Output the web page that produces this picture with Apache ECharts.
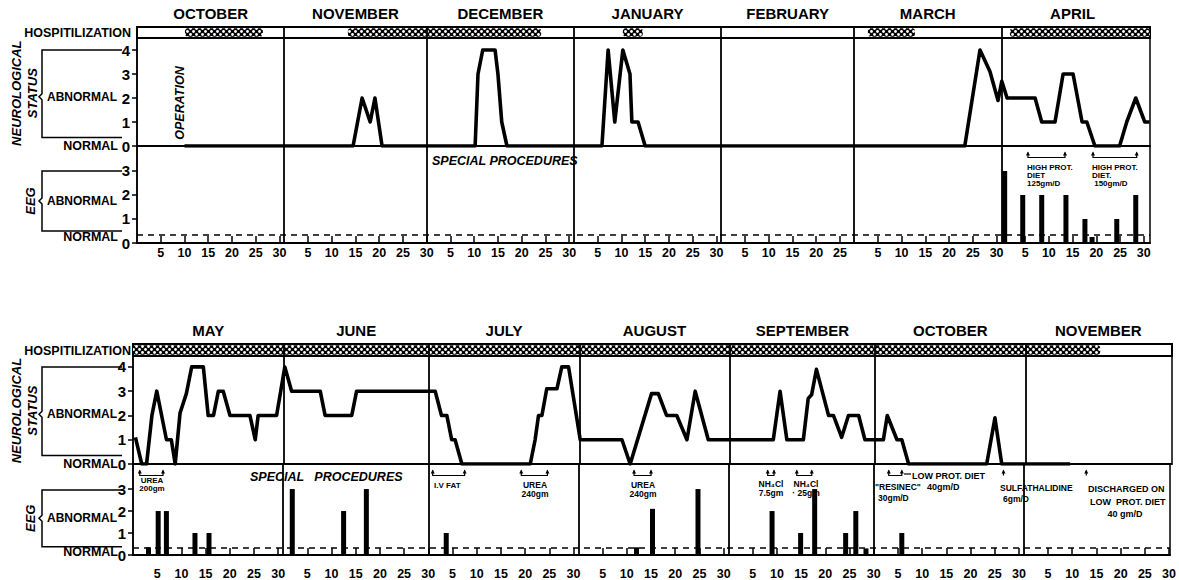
<!DOCTYPE html>
<html><head><meta charset="utf-8">
<script src="https://cdn.jsdelivr.net/npm/echarts@6/dist/echarts.min.js"></script>
<style>html,body{margin:0;padding:0;background:#fff}#c{width:1179px;height:580px}</style>
</head><body><div id="c"></div>
<script>
// ---------------- DATA ----------------
const topMonths = ['OCTOBER','NOVEMBER','DECEMBER','JANUARY','FEBRUARY','MARCH','APRIL'];
const topMonthDays = [31,30,31,31,28,31,30];
const bottomMonths = ['MAY','JUNE','JULY','AUGUST','SEPTEMBER','OCTOBER','NOVEMBER'];
const bottomMonthDays = [31,30,31,31,30,31,30];
const dayTickLabels = [5,10,15,20,25,30];
const neuroTicks = [0,1,2,3,4];
const eegTicks = [0,1,2,3];
const eegNormalLevel = 0.33;

// hospitalization periods: [fromMonth, fromDay, toMonth, toDay]
const topHospitalization = [
  ['OCTOBER',10.1,'OCTOBER',26.5],['NOVEMBER',13.4,'DECEMBER',24.1],['JANUARY',10.3,'JANUARY',14.5],
  ['MARCH',2.9,'MARCH',12.8],['APRIL',1.8,'APRIL',31.3]];
const bottomHospitalization = [['MAY',0,'NOVEMBER',15.4]];

// neurological status: [month, day, grade]
const topNeuro = [
  ['OCTOBER',10,0],
  ['NOVEMBER',14.5,0],['NOVEMBER',16.4,2],['NOVEMBER',18.1,1],['NOVEMBER',19.1,2],['NOVEMBER',20.6,0],
  ['DECEMBER',10.2,0],['DECEMBER',10.8,3],['DECEMBER',11.8,4],['DECEMBER',14.4,4],['DECEMBER',15,3],['DECEMBER',15.8,1],['DECEMBER',16.9,0],
  ['JANUARY',5.9,0],['JANUARY',7.2,4],['JANUARY',8.6,1],['JANUARY',10.3,4],['JANUARY',11.8,3],['JANUARY',12.2,1],['JANUARY',13.5,1],['JANUARY',15,0],
  ['MARCH',23.3,0],['MARCH',26.5,4],['MARCH',28.6,3.1],['MARCH',30.3,1.9],
  ['APRIL',0.1,2.7],['APRIL',1.2,2],['APRIL',7.1,2],['APRIL',8.5,1],['APRIL',11.3,1],['APRIL',13,3],['APRIL',15.1,3],
  ['APRIL',17,1],['APRIL',18,1],['APRIL',19.7,0],['APRIL',24.9,0],['APRIL',26.4,1],['APRIL',28.3,2],['APRIL',30.2,1],['APRIL',31.2,1]];
const bottomNeuro = [
  ['MAY',0.5,1.1],['MAY',1.8,0],['MAY',2.8,0],['MAY',3.9,2],['MAY',4.9,3],['MAY',6.9,1],['MAY',7.9,1],['MAY',8.7,0],
  ['MAY',9.7,2.1],['MAY',11,2.9],['MAY',12.1,4],['MAY',14.5,4],['MAY',15.5,2],['MAY',16.6,2],['MAY',17.6,3],['MAY',18.6,3],
  ['MAY',20,2],['MAY',24.1,2],['MAY',25.2,1],['MAY',25.8,2],['MAY',29.6,2],
  ['JUNE',0.3,4],['JUNE',1.7,3],['JUNE',7.6,3],['JUNE',8.6,2],['JUNE',14.1,2],['JUNE',15.1,3],
  ['JULY',1.3,3],['JULY',2.6,2],['JULY',3.7,2],['JULY',4.7,1],['JULY',5.4,1],['JULY',6.8,0],['JULY',20.9,0],
  ['JULY',21.9,1],['JULY',22.6,2],['JULY',23.3,2],['JULY',24.3,3.1],['JULY',26.4,3.1],['JULY',27.4,4],['JULY',28.8,4],
  ['AUGUST',0.2,1],['AUGUST',8.8,1],['AUGUST',10.5,0],['AUGUST',14.9,2.9],['AUGUST',16.3,2.9],['AUGUST',18,2],['AUGUST',20.1,2],
  ['AUGUST',22.2,1],['AUGUST',23.9,3],['AUGUST',26.6,1],
  ['SEPTEMBER',9,1],['SEPTEMBER',10.4,3],['SEPTEMBER',11.8,1],['SEPTEMBER',15.2,1],['SEPTEMBER',16.2,2.7],['SEPTEMBER',16.9,2.85],
  ['SEPTEMBER',17.9,3.9],['SEPTEMBER',20.4,2],['SEPTEMBER',21.4,2],['SEPTEMBER',23.1,1.1],['SEPTEMBER',24.5,2],['SEPTEMBER',26.6,2],['SEPTEMBER',27.9,1],
  ['OCTOBER',1.7,1],['OCTOBER',2.5,2],['OCTOBER',4.5,1],['OCTOBER',5.5,1],['OCTOBER',6.9,0],['OCTOBER',23,0],['OCTOBER',24.7,1.9],['OCTOBER',26.1,0],
  ['NOVEMBER',9.2,0]];

// EEG grade: [month, day, grade]
const topEeg = [['APRIL',0.7,3],['APRIL',4.5,2],['APRIL',8.5,2],['APRIL',13.6,2],['APRIL',17.6,1],['APRIL',19.1,0.25],['APRIL',24.3,1],['APRIL',28.3,2]];
const bottomEeg = [
  ['MAY',3.2,0.35],['MAY',5.2,2],['MAY',6.9,2],['MAY',12.8,1],['MAY',15.7,1],
  ['JUNE',1.9,3],['JUNE',12.5,2],['JUNE',17.2,3],
  ['JULY',3.7,1],
  ['AUGUST',12,0.35],['AUGUST',15.3,2.1],['AUGUST',24.7,3],
  ['SEPTEMBER',9,2],['SEPTEMBER',14.9,1],['SEPTEMBER',17.8,3],['SEPTEMBER',24.2,1],['SEPTEMBER',26.3,2],['SEPTEMBER',28.4,0.3],
  ['OCTOBER',5.8,1]];

// special procedures: [month, fromDay, toDay]
const topProcedures = [['APRIL',5.6,13.4],['APRIL',19.3,28.5]];
const bottomProcedures = [['MAY',1.4,6.2],['JULY',0.9,7.5],['JULY',19.2,24.6],['AUGUST',11.5,15],
  ['SEPTEMBER',8.1,9.4],['SEPTEMBER',14.1,17.2],['OCTOBER',3.1,5.8],['OCTOBER',26.8,26.8],['NOVEMBER',12.9,12.9]];

// ---------------- LAYOUT / STYLE ----------------
const LAYOUT = {
  top:    {left:137, width:1013, xMax:213.3, hospTop:27, hospH:11, neuroTop:38, neuroH:108, neuroMax:4.5, eegTop:146, eegH:97, eegMax:4.04, dayMargin:3},
  bottom: {left:133, width:1039, xMax:214.2, hospTop:344, hospH:12, neuroTop:356, neuroH:108, neuroMax:4.45, eegTop:464, eegH:94, eegMax:4.14, dayMargin:12}
};
const FONT2 = "'Liberation Sans',Arial,sans-serif";

const pc = document.createElement('canvas'); pc.width = 6; pc.height = 6;
const g = pc.getContext('2d');
g.fillStyle = '#000'; g.fillRect(0,0,6,6); g.fillStyle = '#fff';
[[1.5,1.5],[4.5,4.5]].forEach(p => { g.beginPath(); g.arc(p[0],p[1],1.4,0,Math.PI*2); g.fill(); });
const hospPattern = {image: pc, repeat: 'repeat', imageWidth: 6, imageHeight: 6};

function cum(days){ const c=[0]; days.forEach((d,i)=>c.push(c[i]+d)); return c; }
const yOf = (top,h,max,v) => top + h*(1 - v/max);

const grids = [], xAxes = [], yAxes = [], series = [], graphics = [];

function buildPanel(months, days, L, hosp, neuro, eeg, procs){
  const C = cum(days);
  const pos = (m,d) => C[months.indexOf(m)] + d;
  const gi = grids.length;
  const boundaries = C.slice(1, months.length).map(v => ({xAxis: v}));
  const bLine = {silent:true, symbol:['none','none'], label:{show:false}, animation:false,
    lineStyle:{color:'#000', width:1.8, type:'solid'}, data: boundaries};
  const gridCommon = {left:L.left, width:L.width, show:true, borderColor:'#000', borderWidth:1.5, containLabel:false};
  grids.push(Object.assign({}, gridCommon, {top:L.hospTop, height:L.hospH, borderWidth:2}));
  grids.push(Object.assign({}, gridCommon, {top:L.neuroTop, height:L.neuroH}));
  grids.push(Object.assign({}, gridCommon, {top:L.eegTop, height:L.eegH}));

  const monthCenters = C.slice(0, months.length).map((c,i) => c + days[i]/2);
  const monthMap = {}; monthCenters.forEach((v,i) => monthMap[Math.round(v*1000)] = months[i]);
  const dayVals = [], dayMap = {};
  months.forEach((m,i) => dayTickLabels.forEach(d => { if (d <= days[i]) { const v = C[i]+d; dayVals.push(v); dayMap[Math.round(v*1000)] = String(d); } }));

  const hidden = {show:false};
  xAxes.push({gridIndex:gi, type:'value', min:0, max:L.xMax, position:'top', axisLine:hidden, axisTick:hidden, splitLine:hidden,
    axisLabel:{show:true, customValues:monthCenters, margin:6, formatter:v => monthMap[Math.round(v*1000)] || '',
      fontFamily:FONT2, fontWeight:'bold', fontSize:15, color:'#000'}});
  xAxes.push({gridIndex:gi+1, type:'value', min:0, max:L.xMax, axisLine:{show:true, lineStyle:{color:'#000', width:1.5}}, axisTick:hidden, axisLabel:hidden, splitLine:hidden});
  xAxes.push({gridIndex:gi+2, type:'value', min:0, max:L.xMax,
    axisLine:{show:true, onZero:false, lineStyle:{color:'#000', width:2}},
    axisTick:{show:true, inside:true, length:7, customValues:dayVals, lineStyle:{color:'#000', width:1.5}},
    axisLabel:{show:true, customValues:dayVals, margin:L.dayMargin, formatter:v => dayMap[Math.round(v*1000)] || '',
      fontFamily:FONT2, fontWeight:'bold', fontSize:12.5, color:'#000'},
    splitLine:hidden});

  yAxes.push({gridIndex:gi, type:'value', min:0, max:1, show:false});
  const yLab = {show:true, margin:7, fontFamily:FONT2, fontWeight:'bold', fontSize:15, color:'#000'};
  yAxes.push({gridIndex:gi+1, type:'value', min:0, max:L.neuroMax,
    axisLine:{show:true, lineStyle:{color:'#000', width:1.5}},
    axisTick:{show:true, length:5, customValues:neuroTicks, lineStyle:{color:'#000', width:1.5}},
    axisLabel:Object.assign({customValues:neuroTicks}, yLab), splitLine:hidden});
  yAxes.push({gridIndex:gi+2, type:'value', min:0, max:L.eegMax,
    axisLine:{show:true, lineStyle:{color:'#000', width:1.5}},
    axisTick:{show:true, length:5, customValues:eegTicks, lineStyle:{color:'#000', width:1.5}},
    axisLabel:Object.assign({customValues:eegTicks}, yLab), splitLine:hidden});

  series.push({type:'custom', xAxisIndex:gi, yAxisIndex:gi, encode:{x:[0,1], y:2}, clip:true,
    data: hosp.map(h => [pos(h[0],h[1]), pos(h[2],h[3]), 0]),
    renderItem: (params, api) => {
      const p1 = api.coord([api.value(0), 1]);
      const p2 = api.coord([Math.min(api.value(1), L.xMax), 0]);
      return {type:'rect', shape:{x:p1[0], y:p1[1]+1.2, width:p2[0]-p1[0], height:p2[1]-p1[1]-2.4, r:3}, style:{fill:hospPattern}};
    }, markLine: bLine, z:3});
  series.push({type:'line', xAxisIndex:gi+1, yAxisIndex:gi+1, symbol:'none', showSymbol:false,
    lineStyle:{color:'#000', width:3.6, join:'round'}, data: neuro.map(p => [pos(p[0],p[1]), p[2]]),
    markLine: bLine, z:3});
  series.push({type:'bar', xAxisIndex:gi+2, yAxisIndex:gi+2, barWidth:5, itemStyle:{color:'#000'},
    data: eeg.map(p => [pos(p[0],p[1]), p[2]]),
    markLine: Object.assign({}, bLine, {data: boundaries.concat([{yAxis:eegNormalLevel, lineStyle:{type:[6,5], width:1.6, color:'#000'}}])}), z:3});
  series.push({type:'custom', xAxisIndex:gi+2, yAxisIndex:gi+2, encode:{x:[0,1], y:2},
    data: procs.map(p => [pos(p[0],p[1]), pos(p[0],p[2]), 0]),
    renderItem: (params, api) => {
      const x1 = api.coord([api.value(0), 0])[0];
      const x2 = api.coord([api.value(1), 0])[0];
      const top = params.coordSys.y;
      const y1 = top + 6.5, y2 = top + 11.5;
      const head = x => ({type:'polygon', shape:{points:[[x-2,y1+3],[x,y1-1],[x+2,y1+3]]}, style:{fill:'#000'}});
      if (x2 - x1 < 1) return {type:'group', children:[
        {type:'line', shape:{x1:x1, y1:y1, x2:x1, y2:y2}, style:{stroke:'#000', lineWidth:1.2}}, head(x1)]};
      return {type:'group', children:[
        {type:'polyline', shape:{points:[[x1,y1],[x1,y2],[x2,y2],[x2,y1]]}, style:{stroke:'#000', lineWidth:1.2, fill:null}},
        head(x1), head(x2)]};
    }, z:4});

  // side labels
  const nY = v => yOf(L.neuroTop, L.neuroH, L.neuroMax, v);
  const eY = v => yOf(L.eegTop, L.eegH, L.eegMax, v);
  const bx = 42, bxr = 122;
  const bracket = (yt, yb, ym) => ({type:'polyline', shape:{points:[[bxr,yt],[bx,yt],[bx,ym-3],[bx-3,ym],[bx,ym+3],[bx,yb],[bxr,yb]]},
    style:{stroke:'#000', lineWidth:1.5, fill:null}});
  const t = (text, x, y, o) => ({type:'text', x:x, y:y, rotation:(o && o.rot) || 0, z:10,
    style:Object.assign({text:text, fontFamily:FONT2, fontWeight:'bold', fontSize:12, fill:'#000', align:'left', verticalAlign:'middle'}, o || {})});
  const rot = Math.PI/2;
  graphics.push(
    t('HOSPITILIZATION', 131, L.hospTop + L.hospH/2 + 0.5, {align:'right', fontSize:12.5}),
    t('NEUROLOGICAL', 16, nY(2.2), {align:'center', rot:rot, fontStyle:'italic', fontSize:13}),
    t('STATUS', 32, nY(2.2), {align:'center', rot:rot, fontStyle:'italic', fontSize:13}),
    bracket(nY(4), nY(0.35), nY(2.05)),
    t('ABNORMAL', 47, nY(2.05), {fontSize:12}),
    t('NORMAL', 118, nY(0), {align:'right', fontSize:12.5}),
    t('EEG', 30, eY(1.75), {align:'center', rot:rot, fontStyle:'italic', fontSize:13}),
    bracket(eY(3), eY(0.5), eY(1.75)),
    t('ABNORMAL', 47, eY(1.75), {fontSize:12}),
    t('NORMAL', 118, eY(0.25), {align:'right', fontSize:12.5})
  );
  return t;
}

const tt = buildPanel(topMonths, topMonthDays, LAYOUT.top, topHospitalization, topNeuro, topEeg, topProcedures);
buildPanel(bottomMonths, bottomMonthDays, LAYOUT.bottom, bottomHospitalization, bottomNeuro, bottomEeg, bottomProcedures);

const rot = Math.PI/2;
const small = (text, x, y, o) => tt(text, x, y, Object.assign({fontSize:8.5, lineHeight:9, verticalAlign:'top'}, o || {}));
graphics.push(
  tt('OPERATION', 180, 103, {align:'center', rot:rot, fontStyle:'italic', fontSize:12.5}),
  tt('SPECIAL PROCEDURES', 432, 161, {fontStyle:'italic', fontSize:12.5}),
  small('HIGH PROT.\nDIET\n125gm/D', 1027, 163, {fontSize:8, lineHeight:8}),
  small('HIGH PROT.\nDIET.\n 150gm/D', 1092, 163, {fontSize:8, lineHeight:8}),
  tt('SPECIAL   PROCEDURES', 250, 477, {fontStyle:'italic', fontSize:12.5}),
  small('UREA\n200gm', 152, 477, {align:'center', fontSize:8, lineHeight:7.5}),
  small('I.V FAT', 434, 481, {fontSize:8}),
  small('UREA\n240gm', 535, 480, {align:'center', fontSize:8.5}),
  small('UREA\n240gm', 643, 480, {align:'center', fontSize:8.5}),
  small('NH\u2084Cl\n7.5gm', 771, 479, {align:'center', fontSize:8.5}),
  small('NH\u2084Cl\n\u00b7 25gm', 806, 479, {align:'center', fontSize:8.5}),
  small('LOW PROT. DIET', 912, 471, {fontSize:9}),
  small('40gm/D', 927, 482, {fontSize:9}),
  small('"RESINEC"', 875, 482, {fontSize:8.5}),
  small('30gm/D', 878, 493, {fontSize:8.5}),
  small('SULFATHALIDINE', 1000, 483, {fontSize:8.5}),
  small('6gm/D', 1003, 494, {fontSize:8.5}),
  small('DISCHARGED ON', 1088, 484, {fontSize:9}),
  small('LOW  PROT. DIET', 1090, 497, {fontSize:9}),
  small('40 gm/D', 1125, 509, {align:'center', fontSize:9}),
  {type:'line', shape:{x1:904, y1:474, x2:911, y2:474}, style:{stroke:'#000', lineWidth:1.2}, z:10}
);

const chart = echarts.init(document.getElementById('c'), null, {renderer:'svg'});
chart.setOption({animation:false, backgroundColor:'#fff', grid:grids, xAxis:xAxes, yAxis:yAxes, series:series, graphic:graphics});
</script></body></html>
